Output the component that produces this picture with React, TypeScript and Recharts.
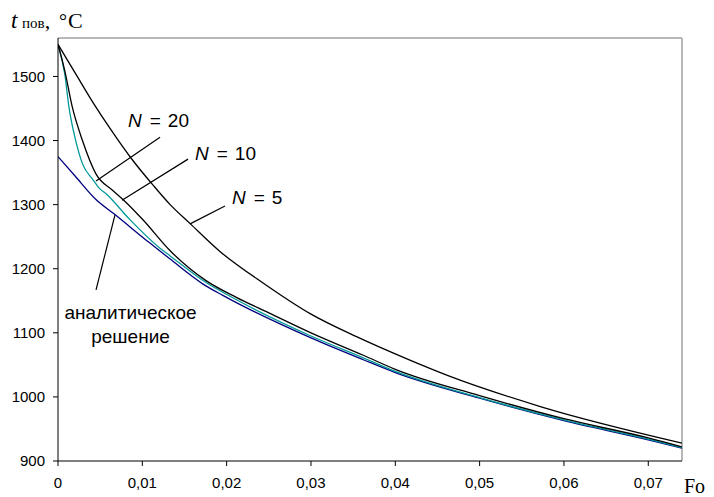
import React from "react";
import { LineChart, Line, XAxis, YAxis, ReferenceLine, ReferenceDot } from "recharts";

// Fourier number values and surface temperatures for each series
const foN5 = [0, 0.0021, 0.0045, 0.0069, 0.0087, 0.0113, 0.0133, 0.0157, 0.0192, 0.0244, 0.0299, 0.0354, 0.0418, 0.0461, 0.0572, 0.074];
const tN5 = [1550, 1504, 1452, 1405, 1372, 1330, 1300, 1270, 1227, 1177, 1130, 1094, 1057, 1034, 985, 928];

const foN10 = [0, 0.0008, 0.0017, 0.0029, 0.0045, 0.0065, 0.0078, 0.0101, 0.0133, 0.0176, 0.0212, 0.0252, 0.03, 0.0362, 0.04, 0.05, 0.06, 0.07, 0.074];
const tN10 = [1550, 1509, 1452, 1400, 1348, 1322, 1307, 1276, 1228, 1181, 1155, 1130, 1100, 1065, 1043, 1002, 966, 936, 922];

const foN20 = [0, 0.0008, 0.0013, 0.0021, 0.0029, 0.0042, 0.0048, 0.0057, 0.0085, 0.0121, 0.0133, 0.0176, 0.0204, 0.03, 0.0362, 0.04, 0.05, 0.06, 0.07, 0.074];
const tN20 = [1550, 1504, 1452, 1400, 1364, 1338, 1327, 1317, 1277, 1232, 1220, 1178, 1157, 1095, 1061, 1040, 999, 964, 934, 921];

const foAn = [0, 0.002, 0.0045, 0.0066, 0.0109, 0.0133, 0.0172, 0.0196, 0.03, 0.0362, 0.04, 0.05, 0.06, 0.07, 0.074];
const tAn = [1375, 1345, 1308, 1286, 1240, 1215, 1176, 1158, 1092, 1058, 1038, 998, 963, 933, 920];

const xTicks = [0, 0.01, 0.02, 0.03, 0.04, 0.05, 0.06, 0.07];
const yTicks = [900, 1000, 1100, 1200, 1300, 1400, 1500];
const xMax = 0.074;
const yMin = 900;
const yMax = 1560;

// annotation leaders (data coordinates)
const leaderLabels = ["N20", "N10", "N5", "an"];
const leaderFrom = [
  { x: 0.0121, y: 1405 },
  { x: 0.01542, y: 1371 },
  { x: 0.0198, y: 1298 },
  { x: 0.00676, y: 1284 },
];
const leaderTo = [
  { x: 0.00451, y: 1337 },
  { x: 0.00759, y: 1307 },
  { x: 0.01566, y: 1270 },
  { x: 0.00451, y: 1167 },
];
// N labels (data coordinates of text start/baseline)
const nLabelText = ["20", "10", "5"];
const nLabelPos = [
  { x: 0.0083, y: 1421 },
  { x: 0.01625, y: 1370 },
  { x: 0.02063, y: 1301 },
];
const anLabelText = ["аналитическое", "решение"];
const anLabelPos = [
  { x: 0.0086, y: 1121 },
  { x: 0.0086, y: 1084 },
];

const zip = (xs: number[], ys: number[]) => xs.map((x, i) => ({ fo: x, t: ys[i] }));
const dataN5 = zip(foN5, tN5);
const dataN10 = zip(foN10, tN10);
const dataN20 = zip(foN20, tN20);
const dataAn = zip(foAn, tAn);

const sans = "'Liberation Sans', Arial, sans-serif";
const serif = "'Liberation Serif', 'Times New Roman', serif";

const fmtX = (v: number) => (v === 0 ? "0" : v.toFixed(2).replace(".", ","));

export default function App() {
  return (
    <div style={{ position: "absolute", left: 0, top: 0, width: 714, height: 497, background: "#fff" }}>
      <LineChart width={714} height={497} margin={{ top: 38, right: 32, bottom: 0, left: 0 }}>
        <XAxis
          dataKey="fo"
          type="number"
          domain={[0, xMax]}
          ticks={xTicks}
          tickFormatter={fmtX}
          allowDataOverflow
          height={36}
          stroke="#000"
          tickSize={5}
          tickMargin={11}
          tick={{ fill: "#000", fontSize: 15, fontFamily: sans }}
          label={{
            content: () => (
              <text x={684} y={493} fontFamily={serif} fontSize={20} fill="#000">
                Fo
              </text>
            ),
          }}
        />
        <YAxis
          dataKey="t"
          type="number"
          domain={[yMin, yMax]}
          ticks={yTicks}
          allowDataOverflow
          width={58}
          stroke="#000"
          tickSize={5}
          tickMargin={8}
          tick={{ fill: "#000", fontSize: 15, fontFamily: sans }}
          label={{
            content: () => (
              <text y={28} fontFamily={serif} fill="#000">
                <tspan x={11} fontStyle="italic" fontSize={23}>t</tspan>
                <tspan x={22} fontSize={15}>пов</tspan>
                <tspan fontSize={22}>,</tspan>
                <tspan x={59} fontSize={20}>°</tspan>
                <tspan x={68} fontSize={22}>C</tspan>
              </text>
            ),
          }}
        />
        <ReferenceLine y={yMax} stroke="#a0a0a0" strokeWidth={1.5} />
        <ReferenceLine x={xMax} stroke="#a0a0a0" strokeWidth={1.5} />
        {leaderLabels.map((k, i) => (
          <ReferenceLine
            key={k}
            segment={[leaderFrom[i], leaderTo[i]]}
            stroke="#000"
            strokeWidth={1.2}
          />
        ))}
        <Line data={dataAn} dataKey="t" type="monotone" stroke="#000080" strokeWidth={1.3} dot={false} isAnimationActive={false} />
        <Line data={dataN20} dataKey="t" type="monotone" stroke="#009999" strokeWidth={1.3} dot={false} isAnimationActive={false} />
        <Line data={dataN10} dataKey="t" type="monotone" stroke="#000" strokeWidth={1.3} dot={false} isAnimationActive={false} />
        <Line data={dataN5} dataKey="t" type="monotone" stroke="#000" strokeWidth={1.3} dot={false} isAnimationActive={false} />
        {nLabelText.map((s, i) => (
          <ReferenceDot
            key={"n" + s}
            x={nLabelPos[i].x}
            y={nLabelPos[i].y}
            r={0}
            shape={(p: any) => (
              <text x={p.cx} y={p.cy} fontFamily={sans} fontSize={19} fill="#000">
                <tspan fontStyle="italic">N</tspan>
                <tspan dx={8}>=</tspan>
                <tspan dx={7}>{s}</tspan>
              </text>
            )}
          />
        ))}
        {anLabelText.map((s, i) => (
          <ReferenceDot
            key={"a" + i}
            x={anLabelPos[i].x}
            y={anLabelPos[i].y}
            r={0}
            shape={(p: any) => (
              <text x={p.cx} y={p.cy} textAnchor="middle" fontFamily={sans} fontSize={19} fill="#000">
                {s}
              </text>
            )}
          />
        ))}
      </LineChart>
    </div>
  );
}
